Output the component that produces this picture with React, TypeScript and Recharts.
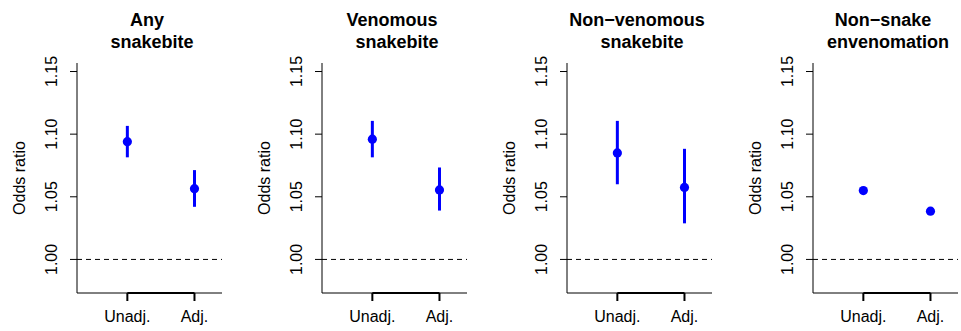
import * as React from 'react';
import {
  ErrorBar,
  ReferenceLine,
  Scatter,
  ScatterChart,
  XAxis,
  YAxis,
} from 'recharts';

// panel titles, two lines each (R centres each line, the spaces mimic that)
const panelTitles = [
  ['Any ', ' snakebite'],
  ['Venomous ', ' snakebite'],
  ['Non−venomous ', ' snakebite'],
  ['Non−snake ', ' envenomation'],
];

const estimateLabels = ['Unadj.', 'Adj.'];
const estimatePositions = [1, 2];

// odds ratio and 95% CI, [Unadj., Adj.] per panel
const oddsRatio = [
  [1.094, 1.0565],
  [1.096, 1.0555],
  [1.085, 1.0575],
  [1.055, 1.0385],
];
const ciLower = [
  [1.0815, 1.042],
  [1.0815, 1.039],
  [1.06, 1.0288],
  [1.0535, 1.037],
];
const ciUpper = [
  [1.1066, 1.0713],
  [1.1106, 1.0734],
  [1.1106, 1.0883],
  [1.0565, 1.04],
];

const yTicks = [1.0, 1.05, 1.1, 1.15];
const yDomain: [number, number] = [0.9732, 1.1568];
const xDomain: [number, number] = [0.25, 2.41];

const FONT = '"Liberation Sans", Arial, Helvetica, sans-serif';
const BLUE = '#0000ff';

const PANEL_STEP = 245.2;
const CHART_W = 225;
const CHART_H = 331;
const AXIS_W = 77;
const PLOT_W = 145;
const PLOT_TOP = 63;
const PLOT_BOTTOM = 293;

const YTick = (props: any) => {
  const { x, y, payload } = props;
  return (
    <text
      x={0}
      y={0}
      transform={`translate(${x - 13}, ${y}) rotate(-90)`}
      textAnchor='middle'
      fontSize={16}
      fontFamily={FONT}
      fill='#000'
    >
      {payload.value.toFixed(2)}
    </text>
  );
};

const XTick = (props: any) => {
  const { x, y, payload } = props;
  const idx = estimatePositions.indexOf(payload.value);
  return (
    <text
      x={x}
      y={y + 21}
      textAnchor='middle'
      fontSize={16}
      fontFamily={FONT}
      fill='#000'
    >
      {estimateLabels[idx]}
    </text>
  );
};

const Dot = (props: any) => (
  <circle cx={props.cx} cy={props.cy} r={4.6} fill={BLUE} />
);

function Panel({ i }: { i: number }) {
  const data = estimatePositions.map((x, j) => ({
    x,
    y: oddsRatio[i][j],
    err: [oddsRatio[i][j] - ciLower[i][j], ciUpper[i][j] - oddsRatio[i][j]],
  }));
  const titleX = AXIS_W + PLOT_W / 2;

  return (
    <div
      style={{
        position: 'absolute',
        left: i * PANEL_STEP,
        top: 0,
        width: CHART_W,
        height: CHART_H,
      }}
    >
      <ScatterChart
        width={CHART_W}
        height={CHART_H}
        margin={{ top: PLOT_TOP, right: CHART_W - AXIS_W - PLOT_W, bottom: 0, left: 0 }}
      >
        <XAxis
          type='number'
          dataKey='x'
          domain={xDomain}
          ticks={estimatePositions}
          allowDataOverflow
          height={CHART_H - PLOT_BOTTOM}
          tickSize={8}
          tickMargin={0}
          tick={<XTick />}
          tickLine={{ stroke: '#000', strokeWidth: 2 }}
          axisLine={{ stroke: '#000', strokeWidth: 1 }}
        />
        <YAxis
          type='number'
          dataKey='y'
          domain={yDomain}
          ticks={yTicks}
          allowDataOverflow
          width={AXIS_W}
          tickSize={7}
          tickMargin={0}
          tick={<YTick />}
          tickLine={{ stroke: '#000', strokeWidth: 1 }}
          axisLine={{ stroke: '#000', strokeWidth: 1 }}
        />
        <ReferenceLine
          y={1}
          stroke='#000'
          strokeWidth={1}
          strokeDasharray='5 4'
        />
        <ReferenceLine
          segment={[
            { x: estimatePositions[0], y: yDomain[0] },
            { x: estimatePositions[1], y: yDomain[0] },
          ]}
          stroke='#000'
          strokeWidth={2}
          ifOverflow='visible'
        />
        <Scatter data={data} shape={Dot} isAnimationActive={false}>
          <ErrorBar
            dataKey='err'
            direction='y'
            width={0}
            stroke={BLUE}
            strokeWidth={3}
          />
        </Scatter>
      </ScatterChart>
      <svg
        width={CHART_W}
        height={CHART_H}
        style={{ position: 'absolute', left: 0, top: 0, pointerEvents: 'none' }}
      >
        <text
          fontFamily={FONT}
          fontSize={18}
          fontWeight='bold'
          textAnchor='middle'
          fill='#000'
          style={{ whiteSpace: 'pre' }}
        >
          <tspan x={titleX} y={25.5}>
            {panelTitles[i][0]}
          </tspan>
          <tspan x={titleX} y={47.5}>
            {panelTitles[i][1]}
          </tspan>
        </text>
        <text
          transform={`translate(25, ${(PLOT_TOP + PLOT_BOTTOM) / 2}) rotate(-90)`}
          fontFamily={FONT}
          fontSize={16}
          textAnchor='middle'
          fill='#000'
        >
          Odds ratio
        </text>
      </svg>
    </div>
  );
}

export default function App() {
  return (
    <div
      style={{
        position: 'absolute',
        left: 0,
        top: 0,
        width: 961,
        height: 331,
        overflow: 'hidden',
        background: '#fff',
      }}
    >
      {panelTitles.map((_, i) => (
        <Panel key={i} i={i} />
      ))}
    </div>
  );
}
